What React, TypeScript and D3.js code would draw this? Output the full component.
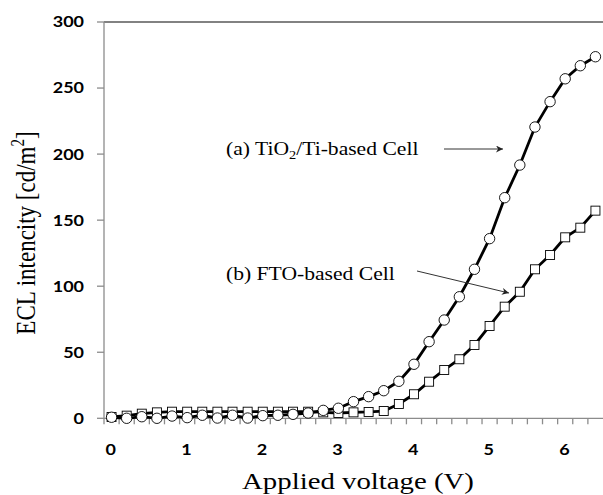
import * as d3 from "d3";
import { useEffect, useRef } from "react";

// applied voltage categories (V)
const voltages = [
  "0", "0.2", "0.4", "0.6", "0.8", "1", "1.2", "1.4", "1.6", "1.8", "2",
  "2.2", "2.4", "2.6", "2.8", "3", "3.2", "3.4", "3.6", "3.8", "4",
  "4.2", "4.4", "4.6", "4.8", "5", "5.2", "5.4", "5.6", "5.8", "6",
  "6.2", "6.4",
];
const xLabels = ["0", "1", "2", "3", "4", "5", "6"];
const yTicks = [0, 50, 100, 150, 200, 250, 300];

// (a) TiO2/Ti-based cell
const tiCell = [
  0.8, 0, 1.2, 0, 1.7, 0.5, 2.3, 0.2, 2.3, 0.2, 2, 2.3, 3, 4, 6, 7.6, 12.6,
  16.4, 20.9, 28, 40.9, 58, 74.4, 92, 112.8, 136, 167, 191.7, 220.5, 239.7,
  257, 266.9, 273.7,
];
// (b) FTO-based cell
const ftoCell = [
  1, 2, 3.5, 4.5, 5, 5, 5, 5, 5, 5, 5, 5, 5, 5, 4.5, 4, 4.5, 4.8, 5.5, 10.8,
  18.2, 27.7, 36.6, 44.7, 55.5, 69.9, 84.5, 95.8, 112.8, 123.6, 137, 144.3,
  157.2,
];

export default function App() {
  const ref = useRef<SVGSVGElement>(null);

  useEffect(() => {
    const svg = d3.select(ref.current);
    svg.selectAll("*").remove();

    const left = 104,
      right = 603,
      top = 22,
      bottom = 418.3;
    // the original figure is stretched horizontally
    const sx = 1.2;

    const x = d3.scaleBand<string>().domain(voltages).range([left, right]);
    const cx = (i: number) => x(voltages[i])! + x.bandwidth() / 2;
    const y = d3.scaleLinear().domain([0, 300]).range([bottom, top]);

    const serif = "'Liberation Serif', 'Times New Roman', serif";
    const sans = "Lato, 'Open Sans', sans-serif";
    const axisColor = "#8c8c8c";

    // top border at 300
    svg.append("line")
      .attr("x1", left).attr("x2", right)
      .attr("y1", y(300)).attr("y2", y(300))
      .attr("stroke", "#595959").attr("stroke-width", 1.3);

    // y axis
    svg.append("line")
      .attr("x1", left).attr("x2", left)
      .attr("y1", top).attr("y2", bottom)
      .attr("stroke", axisColor).attr("stroke-width", 1.3);
    svg.selectAll(".ytick")
      .data(yTicks)
      .join("line")
      .attr("x1", left - 7).attr("x2", left)
      .attr("y1", (d) => y(d)).attr("y2", (d) => y(d))
      .attr("stroke", axisColor).attr("stroke-width", 1.3);
    svg.selectAll(".ylab")
      .data(yTicks)
      .join("text")
      .attr("transform", (d) => `translate(84,${y(d)}) scale(${sx},1)`)
      .attr("dy", "0.36em")
      .attr("text-anchor", "end")
      .attr("font-family", sans)
      .attr("font-weight", "bold")
      .attr("font-size", 15)
      .text((d) => d);

    // x axis
    svg.append("line")
      .attr("x1", left).attr("x2", right)
      .attr("y1", bottom).attr("y2", bottom)
      .attr("stroke", axisColor).attr("stroke-width", 1.3);
    svg.selectAll(".xtick")
      .data(voltages)
      .join("line")
      .attr("x1", (d) => x(d)!).attr("x2", (d) => x(d)!)
      .attr("y1", bottom).attr("y2", bottom + 6)
      .attr("stroke", axisColor).attr("stroke-width", 1.3);
    svg.selectAll(".xlab")
      .data(xLabels)
      .join("text")
      .attr("transform", (d) => `translate(${x(d)! + x.bandwidth() / 2 - 0.8},450) scale(${sx},1)`)
      .attr("dy", "0.36em")
      .attr("text-anchor", "middle")
      .attr("font-family", sans)
      .attr("font-weight", "bold")
      .attr("font-size", 15)
      .text((d) => d);

    // axis titles
    svg.append("text")
      .attr("transform", `translate(358,489) scale(${sx},1)`)
      .attr("text-anchor", "middle")
      .attr("font-family", serif)
      .attr("font-size", 24)
      .text("Applied voltage (V)");

    const yt = svg.append("text")
      .attr("transform", `translate(35,233) scale(${sx},1) rotate(-90)`)
      .attr("text-anchor", "middle")
      .attr("font-family", serif)
      .attr("font-size", 23);
    yt.append("tspan").text("ECL intencity [cd/m");
    yt.append("tspan").attr("font-size", 15).attr("dy", -9).text("2");
    yt.append("tspan").attr("dy", 9).text("]");

    // lines
    const line = d3.line<number>()
      .x((d, i) => cx(i))
      .y((d) => y(d));

    [ftoCell, tiCell].forEach((s) => {
      svg.append("path")
        .datum(s)
        .attr("d", line)
        .attr("fill", "none")
        .attr("stroke", "#000")
        .attr("stroke-width", 2.8);
    });

    // markers
    const sq = 9;
    svg.selectAll(".sq")
      .data(ftoCell)
      .join("rect")
      .attr("x", (d, i) => cx(i) - sq / 2)
      .attr("y", (d) => y(d) - sq / 2)
      .attr("width", sq)
      .attr("height", sq)
      .attr("fill", "#fff")
      .attr("stroke", "#000")
      .attr("stroke-width", 0.9);

    svg.selectAll(".ci")
      .data(tiCell)
      .join("circle")
      .attr("cx", (d, i) => cx(i))
      .attr("cy", (d) => y(d))
      .attr("r", 5.2)
      .attr("fill", "#fff")
      .attr("stroke", "#000")
      .attr("stroke-width", 0.9);

    // annotations
    const defs = svg.append("defs");
    defs.append("marker")
      .attr("id", "arr")
      .attr("viewBox", "0 0 10 10")
      .attr("refX", 10).attr("refY", 5)
      .attr("markerWidth", 10).attr("markerHeight", 7)
      .attr("markerUnits", "userSpaceOnUse")
      .attr("orient", "auto")
      .append("path")
      .attr("d", "M0,0 L10,5 L0,10 L3,5 Z")
      .attr("fill", "#222");

    const ta = svg.append("text")
      .attr("transform", `translate(226,155) scale(${sx},1)`)
      .attr("font-family", serif)
      .attr("font-size", 18);
    ta.append("tspan").text("(a) TiO");
    ta.append("tspan").attr("font-size", 12).attr("dy", 4).text("2");
    ta.append("tspan").attr("dy", -4).text("/Ti-based Cell");

    svg.append("text")
      .attr("transform", `translate(226,280) scale(${sx},1)`)
      .attr("font-family", serif)
      .attr("font-size", 18)
      .text("(b) FTO-based Cell");

    svg.append("line")
      .attr("x1", 444).attr("y1", 149)
      .attr("x2", 503).attr("y2", 149)
      .attr("stroke", "#333").attr("stroke-width", 1)
      .attr("marker-end", "url(#arr)");
    svg.append("line")
      .attr("x1", 417).attr("y1", 271)
      .attr("x2", 509).attr("y2", 293)
      .attr("stroke", "#333").attr("stroke-width", 1)
      .attr("marker-end", "url(#arr)");
  }, []);

  return (
    <svg
      ref={ref}
      width={603}
      height={495}
      style={{ position: "absolute", left: 0, top: 0, background: "#fff" }}
    ></svg>
  );
}
